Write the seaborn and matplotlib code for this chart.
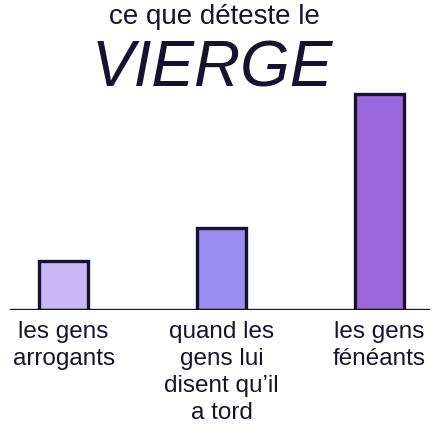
import matplotlib
matplotlib.use("Agg")
import matplotlib.pyplot as plt
import seaborn as sns
import pandas as pd

# === DATA ===
categories = [
    "les gens\narrogants",
    "quand les\ngens lui\ndisent qu\u2019il\na tord",
    "les gens\nfénéants",
]
values = [49, 82, 216]
colors = ["#c8b9f6", "#9b8ef0", "#9a68da"]

TITLE_TOP = "ce que déteste le"
TITLE_MAIN = "VIERGE"

INK = "#16132e"

sns.set_theme(style="white")
plt.rcParams["font.family"] = ["Liberation Sans", "DejaVu Sans"]

df = pd.DataFrame({"cat": categories, "val": values})

fig = plt.figure(figsize=(4.43, 4.48), dpi=100)
fig.patch.set_facecolor("white")
ax = fig.add_axes([10 / 443, 138 / 448, 420 / 443, 230 / 448])

sns.barplot(data=df, x="cat", y="val", hue="cat", palette=colors,
            saturation=1, width=0.31, edgecolor=INK, linewidth=2.4,
            legend=False, ax=ax)

ax.set_xlim(-0.34, 2.32)
ax.set_ylim(0, 230)
ax.axhline(0, color=INK, linewidth=2.4, zorder=5)

for side in ["top", "right", "left", "bottom"]:
    ax.spines[side].set_visible(False)
ax.set_yticks([])
ax.set_xlabel("")
ax.set_ylabel("")
ax.tick_params(axis="x", length=0, pad=8, labelsize=17.5, labelcolor=INK)
for lab in ax.get_xticklabels():
    lab.set_verticalalignment("top")
    lab.set_linespacing(1.3)
ax.set_facecolor("none")

fig.text(0.485, 0.962, TITLE_TOP, ha="center", va="center",
         fontsize=20, color=INK)
fig.text(0.479, 0.845, TITLE_MAIN, ha="center", va="center",
         fontsize=46, style="italic", color=INK)

fig.savefig("out.png", dpi=100, facecolor="white")
